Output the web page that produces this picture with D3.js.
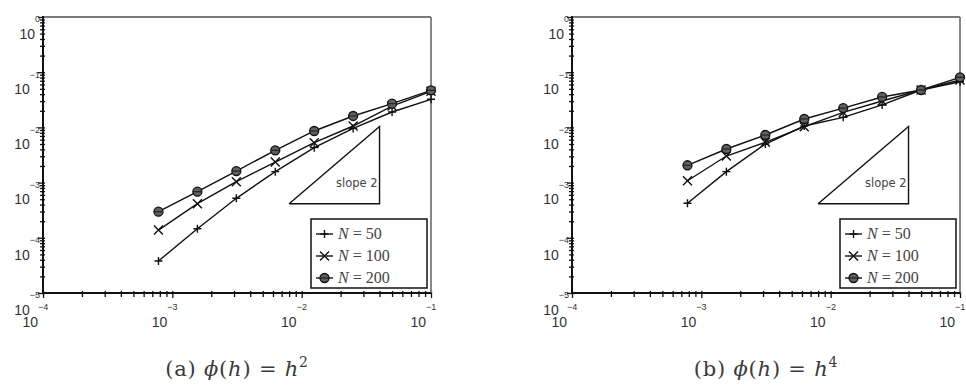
<!DOCTYPE html>
<html>
<head>
<meta charset="utf-8">
<script src="https://cdn.jsdelivr.net/npm/d3@7"></script>
<style>
  body { margin: 0; background: #fff; }
  svg { display: block; }
</style>
</head>
<body>
<svg id="canvas" width="966" height="391"></svg>
<script>
// mesh sizes h (x axis)
let hValues = [7.8125e-4, 1.5625e-3, 3.125e-3, 6.25e-3, 1.25e-2, 2.5e-2, 5e-2, 1e-1];

// panel (a): phi(h) = h^2
let leftN50  = [3.8e-5, 1.46e-4, 5.19e-4, 1.58e-3, 4.30e-3, 9.6e-3, 1.90e-2, 3.23e-2];
let leftN100 = [1.38e-4, 4.15e-4, 1.04e-3, 2.36e-3, 5.28e-3, 1.06e-2, 2.44e-2, 4.51e-2];
let leftN200 = [2.97e-4, 6.84e-4, 1.62e-3, 3.85e-3, 8.61e-3, 1.61e-2, 2.69e-2, 4.70e-2];

// panel (b): phi(h) = h^4
let rightN50  = [4.22e-4, 1.58e-3, 5.0e-3, 1.06e-2, 1.52e-2, 2.55e-2, 4.76e-2, 6.73e-2];
let rightN100 = [1.08e-3, 3.03e-3, 5.37e-3, 1.03e-2, 1.87e-2, 3.01e-2, 4.76e-2, 7.23e-2];
let rightN200 = [2.06e-3, 4.06e-3, 7.28e-3, 1.42e-2, 2.24e-2, 3.56e-2, 4.76e-2, 8.07e-2];

let seriesLabels = ['50', '100', '200'];
let markerKinds = ['plus', 'cross', 'circle'];

let xExponents = [-4, -3, -2, -1];
let yExponents = [0, -1, -2, -3, -4, -5];

// slope-2 reference triangle (data coords)
let slopeX = [8.0e-3, 4.0e-2];
let slopeYBase = 4.15e-4;
let slopeLabel = 'slope 2';

let captionTags = ['(a)', '(b)'];
let captionPowers = ['2', '4'];

let svg = d3.select('#canvas');

let boxW = 388, boxH = 276, boxTop = 17;
let panelLefts = [43, 572];

let drawMarker = (g, kind, cx, cy) => {
    if (kind === 'plus') {
        g.append('path')
         .attr('d', `M${cx-4},${cy}H${cx+4}M${cx},${cy-4}V${cy+4}`)
         .attr('stroke', '#111').attr('stroke-width', 1.4).attr('fill', 'none');
    } else if (kind === 'cross') {
        g.append('path')
         .attr('d', `M${cx-4.5},${cy-4.5}L${cx+4.5},${cy+4.5}M${cx-4.5},${cy+4.5}L${cx+4.5},${cy-4.5}`)
         .attr('stroke', '#111').attr('stroke-width', 1.4).attr('fill', 'none');
    } else {
        g.append('circle')
         .attr('cx', cx).attr('cy', cy).attr('r', 4.5)
         .attr('fill', '#606060').attr('stroke', '#111').attr('stroke-width', 1.3);
        g.append('line')
         .attr('x1', cx-4.5).attr('x2', cx+4.5).attr('y1', cy).attr('y2', cy)
         .attr('stroke', '#222').attr('stroke-width', 1.2);
    }
}

let drawPanel = (left, series, idx) => {
    let x = d3.scaleLog().domain([1e-4, 1e-1]).range([left, left + boxW]);
    let y = d3.scaleLog().domain([1e-5, 1]).range([boxTop + boxH, boxTop]);
    let g = svg.append('g');

    // minor + major ticks
    let xTicks = x.ticks();
    let yTicks = y.ticks();

    let xAxis = g.append('g')
        .attr('transform', `translate(0,${boxTop + boxH})`)
        .call(d3.axisBottom(x).tickValues(xTicks).tickFormat(''));
    xAxis.select('.domain').remove();
    xAxis.selectAll('.tick line')
        .attr('stroke', '#111').attr('stroke-width', 1.3)
        .attr('y1', -2)
        .attr('y2', (d) => Number.isInteger(Math.log10(d)) ? 5 : 4);

    let yAxis = g.append('g')
        .attr('transform', `translate(${left},0)`)
        .call(d3.axisLeft(y).tickValues(yTicks).tickFormat(''));
    yAxis.select('.domain').remove();
    yAxis.selectAll('.tick line')
        .attr('stroke', '#111').attr('stroke-width', 1.3)
        .attr('x1', 2)
        .attr('x2', (d) => Number.isInteger(Math.log10(Math.abs(d))) ? -5 : -3);

    // frame: top/right grey, left/bottom black
    g.append('line').attr('x1', left).attr('x2', left + boxW).attr('y1', boxTop).attr('y2', boxTop)
     .attr('stroke', '#7a7a7a').attr('stroke-width', 1.8);
    g.append('line').attr('x1', left + boxW).attr('x2', left + boxW).attr('y1', boxTop).attr('y2', boxTop + boxH)
     .attr('stroke', '#7a7a7a').attr('stroke-width', 1.8);
    g.append('line').attr('x1', left).attr('x2', left).attr('y1', boxTop - 1).attr('y2', boxTop + boxH)
     .attr('stroke', '#111').attr('stroke-width', 2);
    g.append('line').attr('x1', left).attr('x2', left + boxW).attr('y1', boxTop + boxH).attr('y2', boxTop + boxH)
     .attr('stroke', '#111').attr('stroke-width', 2);

    // y tick labels: small exponent next to tick, "10" dropped below
    yExponents.forEach((k) => {
        let py = y(Math.pow(10, k));
        let expText = g.append('text')
            .attr('x', left - 3).attr('y', py + 3)
            .attr('text-anchor', 'end').attr('dominant-baseline', 'middle')
            .attr('font-family', 'Liberation Sans, Arial, sans-serif')
            .attr('font-size', 9).attr('fill', '#333')
            .text(k === 0 ? '0' : '\u2212' + Math.abs(k));
        let w = expText.node().getComputedTextLength();
        g.append('text')
            .attr('x', left - 3 - w).attr('y', py + 18)
            .attr('text-anchor', 'end').attr('dominant-baseline', 'middle')
            .attr('font-family', 'Liberation Sans, Arial, sans-serif')
            .attr('font-size', 14).attr('fill', '#333')
            .text('10');
    });

    // x tick labels
    xExponents.forEach((k) => {
        let px = x(Math.pow(10, k));
        g.append('text')
            .attr('x', px - 5).attr('y', boxTop + boxH + 15)
            .attr('dominant-baseline', 'middle')
            .attr('font-family', 'Liberation Sans, Arial, sans-serif')
            .attr('font-size', 9).attr('fill', '#333')
            .text('\u2212' + Math.abs(k));
        g.append('text')
            .attr('x', px - 5).attr('y', boxTop + boxH + 30)
            .attr('text-anchor', 'end').attr('dominant-baseline', 'middle')
            .attr('font-family', 'Liberation Sans, Arial, sans-serif')
            .attr('font-size', 14).attr('fill', '#333')
            .text('10');
    });

    // slope triangle
    let slopeTop = slopeYBase * Math.pow(slopeX[1] / slopeX[0], 2);
    g.append('path')
     .attr('d', d3.line()([
         [x(slopeX[0]), y(slopeYBase)],
         [x(slopeX[1]), y(slopeYBase)],
         [x(slopeX[1]), y(slopeTop)],
         [x(slopeX[0]), y(slopeYBase)]
     ]))
     .attr('fill', 'none').attr('stroke', '#111').attr('stroke-width', 1.4);
    g.append('text')
     .attr('x', x(slopeX[1]) - 2).attr('y', (y(slopeYBase) + y(slopeTop)) / 2 + 18)
     .attr('text-anchor', 'end').attr('dominant-baseline', 'middle')
     .attr('font-family', 'DejaVu Sans, sans-serif')
     .attr('font-size', 11.5).attr('fill', '#444')
     .text(slopeLabel);

    // series lines then markers
    let line = d3.line().x((d) => x(d[0])).y((d) => y(d[1]));
    series.forEach((vals) => {
        let pts = hValues.map((h, i) => [h, vals[i]]);
        g.append('path').attr('d', line(pts))
         .attr('fill', 'none').attr('stroke', '#111').attr('stroke-width', 1.4);
    });
    series.forEach((vals, s) => {
        hValues.forEach((h, i) => drawMarker(g, markerKinds[s], x(h), y(vals[i])));
    });

    // legend
    let lx = left + 268, ly = 219;
    g.append('rect').attr('x', lx).attr('y', ly).attr('width', 116).attr('height', 69)
     .attr('fill', '#fff').attr('stroke', '#111').attr('stroke-width', 1.5);
    seriesLabels.forEach((lab, s) => {
        let cy = ly + 15 + s * 22;
        g.append('line').attr('x1', lx + 5).attr('x2', lx + 22).attr('y1', cy).attr('y2', cy)
         .attr('stroke', '#111').attr('stroke-width', 1.4);
        drawMarker(g, markerKinds[s], lx + 13.5, cy);
        let t = g.append('text').attr('x', lx + 27).attr('y', cy + 5)
         .attr('font-family', 'Liberation Serif, serif').attr('font-size', 16).attr('fill', '#444');
        t.append('tspan').attr('font-style', 'italic').text('N');
        t.append('tspan').text(' = ' + lab);
    });

    // caption
    let cap = svg.append('text')
        .attr('x', left + 194).attr('y', 376)
        .attr('text-anchor', 'middle')
        .attr('font-family', 'DejaVu Serif, serif').attr('font-size', 21).attr('fill', '#3a3a3a')
        .attr('letter-spacing', 0.8);
    cap.append('tspan').text(captionTags[idx] + ' ');
    cap.append('tspan').attr('font-style', 'italic').text('\u03d5');
    cap.append('tspan').text('(');
    cap.append('tspan').attr('font-style', 'italic').text('h');
    cap.append('tspan').text(') = ');
    cap.append('tspan').attr('font-style', 'italic').text('h');
    cap.append('tspan').attr('font-size', 14).attr('dy', -9).text(captionPowers[idx]);
}

drawPanel(panelLefts[0], [leftN50, leftN100, leftN200], 0);
drawPanel(panelLefts[1], [rightN50, rightN100, rightN200], 1);
</script>
</body>
</html>
